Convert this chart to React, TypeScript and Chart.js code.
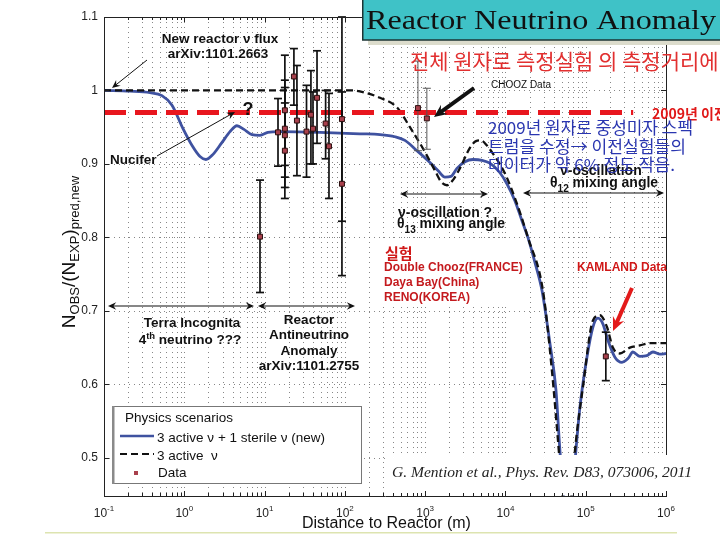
import React, { useEffect, useRef } from 'react';
import { Chart, registerables } from 'chart.js';
Chart.register(...registerables);

// ---------- data ----------
// 3 active + 1 sterile neutrino prediction
const sterileDist = [0.1, 0.211, 0.374, 0.527, 0.703, 0.964, 1.25, 1.57, 1.86, 2.28, 2.94, 3.71, 4.53, 5.54, 6.97, 8.77, 11.0, 15.6, 49, 154, 274, 421, 560, 791, 1148, 1443, 1766, 2096, 2489, 3133, 3940, 5100, 6410, 8540, 10440, 13120, 16030, 19050, 23300, 28500, 35800, 42600, 47700, 53600, 60000, 67300, 75500, 84700, 103600, 123000, 142000, 164000, 189000, 231000, 283000, 336000, 387000, 473000, 578000, 687000, 840000, 1000000];
const sterileRatio = [1.000, 0.999, 0.997, 0.993, 0.980, 0.948, 0.925, 0.910, 0.906, 0.913, 0.929, 0.944, 0.952, 0.947, 0.940, 0.939, 0.943, 0.944, 0.943, 0.941, 0.940, 0.937, 0.932, 0.918, 0.902, 0.891, 0.882, 0.883, 0.894, 0.903, 0.906, 0.905, 0.901, 0.888, 0.873, 0.850, 0.823, 0.800, 0.766, 0.728, 0.656, 0.592, 0.510, 0.442, 0.415, 0.442, 0.510, 0.569, 0.637, 0.678, 0.690, 0.682, 0.660, 0.637, 0.630, 0.635, 0.644, 0.638, 0.639, 0.644, 0.641, 0.642];
// 3 active neutrino prediction
const activeDist = [0.1, 126, 178, 274, 445, 647, 940, 1325, 1574, 1868, 2218, 2711, 3612, 4295, 4958, 5888, 6990, 9860, 13900, 19050, 29300, 37900, 45100, 52000, 58400, 65400, 73500, 92300, 123000, 150000, 184000, 218000, 267000, 355000, 473000, 631000, 1000000];
const activeRatio = [1.0, 1.0, 0.997, 0.990, 0.977, 0.950, 0.921, 0.891, 0.876, 0.871, 0.878, 0.894, 0.922, 0.931, 0.932, 0.925, 0.914, 0.887, 0.846, 0.800, 0.728, 0.619, 0.524, 0.442, 0.415, 0.442, 0.510, 0.596, 0.687, 0.694, 0.678, 0.650, 0.642, 0.650, 0.653, 0.656, 0.656];
// "before 2009" level
const oldFluxDist = [0.1, 390000];
const oldFluxRatio = [0.97, 0.97];
// experiments
const dataName = ['ILL', 'Bugey', 'Rovno91', 'Rovno88-a', 'Rovno88-b', 'SRP-I', 'SRP-II', 'Rovno88-c', 'Krasnoyarsk-I', 'Goesgen-I', 'Bugey-40', 'Goesgen-II', 'Krasnoyarsk-III', 'Goesgen-III', 'Krasnoyarsk-II', 'Bugey-95', 'PaloVerde', 'CHOOZ', 'KamLAND'];
const dataDist = [8.77, 14.7, 17.9, 17.9, 17.9, 17.9, 23.2, 25.3, 33.3, 37.8, 40.1, 45, 57.6, 63.4, 92, 92, 813, 1050, 178000];
const dataRatio = [0.801, 0.943, 0.973, 0.948, 0.939, 0.918, 1.019, 0.959, 0.944, 0.967, 0.948, 0.990, 0.955, 0.924, 0.961, 0.873, 0.976, 0.962, 0.638];
const dataLow = [0.725, 0.897, 0.898, 0.882, 0.868, 0.853, 0.980, 0.884, 0.882, 0.900, 0.900, 0.928, 0.907, 0.853, 0.822, 0.748, 0.918, 0.920, 0.605];
const dataHigh = [0.878, 0.989, 1.048, 1.014, 1.004, 0.983, 1.057, 1.034, 1.007, 1.027, 0.998, 1.054, 1.000, 0.996, 1.100, 0.998, 1.040, 1.003, 0.671];
// axes
const xExponents = [-1, 0, 1, 2, 3, 4, 5, 6];
const yTickValues = [0.5, 0.6, 0.7, 0.8, 0.9, 1.0, 1.1];
const yTickLabels = ['0.5', '0.6', '0.7', '0.8', '0.9', '1', '1.1'];

const xTickValues: number[] = [];
for (let e = -1; e < 6; e++) for (let m = 1; m < 10; m++) xTickValues.push(m * Math.pow(10, e));
xTickValues.push(1e6);

const BLUE = '#3f52a0';
const SANS = '"Liberation Sans", Arial, sans-serif';
const KR = '"Noto Sans CJK KR", sans-serif';
const SERIF = '"Liberation Serif", "DejaVu Serif", serif';

function text(ctx: any, s: string, x: number, y: number, font: string, color: string, align = 'left', fitW?: number) {
  ctx.font = font;
  ctx.fillStyle = color;
  ctx.textBaseline = 'middle';
  if (fitW) {
    const w = ctx.measureText(s).width;
    ctx.textAlign = 'left';
    ctx.save();
    const x0 = align === 'center' ? x - fitW / 2 : x;
    ctx.translate(x0, y);
    ctx.scale(fitW / w, 1);
    ctx.fillText(s, 0, 0);
    ctx.restore();
  } else {
    ctx.textAlign = align;
    ctx.fillText(s, x, y);
  }
}

function segs(ctx: any, list: { t: string; f: string; dy?: number }[], x: number, y: number, align: string, color: string) {
  ctx.textBaseline = 'alphabetic';
  ctx.textAlign = 'left';
  let total = 0;
  for (const s of list) { ctx.font = s.f; total += ctx.measureText(s.t).width; }
  let cx = align === 'center' ? x - total / 2 : x;
  ctx.fillStyle = color;
  for (const s of list) {
    ctx.font = s.f;
    ctx.fillText(s.t, cx, y + (s.dy || 0));
    cx += ctx.measureText(s.t).width;
  }
}

function head(ctx: any, x1: number, y1: number, x2: number, y2: number, size: number, color: string) {
  const a = Math.atan2(y2 - y1, x2 - x1);
  ctx.beginPath();
  ctx.moveTo(x2, y2);
  ctx.lineTo(x2 - size * Math.cos(a - 0.42), y2 - size * Math.sin(a - 0.42));
  ctx.lineTo(x2 - size * 0.6 * Math.cos(a), y2 - size * 0.6 * Math.sin(a));
  ctx.lineTo(x2 - size * Math.cos(a + 0.42), y2 - size * Math.sin(a + 0.42));
  ctx.closePath();
  ctx.fillStyle = color;
  ctx.fill();
}

function arrow(ctx: any, x1: number, y1: number, x2: number, y2: number, color = '#000', width = 1, size = 8, both = false) {
  const a = Math.atan2(y2 - y1, x2 - x1);
  const sx = both ? x1 + Math.cos(a) * size * 0.5 : x1;
  const sy = both ? y1 + Math.sin(a) * size * 0.5 : y1;
  ctx.setLineDash([]);
  ctx.strokeStyle = color;
  ctx.lineWidth = width;
  ctx.beginPath();
  ctx.moveTo(sx, sy);
  ctx.lineTo(x2 - Math.cos(a) * size * 0.5, y2 - Math.sin(a) * size * 0.5);
  ctx.stroke();
  head(ctx, x1, y1, x2, y2, size, color);
  if (both) head(ctx, x2, y2, x1, y1, size, color);
}

function seg(ctx: any, x1: number, y1: number, x2: number, y2: number) {
  ctx.beginPath();
  ctx.moveTo(x1, y1);
  ctx.lineTo(x2, y2);
  ctx.stroke();
}

const deco = {
  id: 'deco',
  beforeDatasetsDraw(chart: any) {
    const { ctx, chartArea: a, scales } = chart;
    ctx.save();
    ctx.strokeStyle = 'rgba(95,95,95,0.75)';
    ctx.lineWidth = 1;
    ctx.setLineDash([1, 4]);
    for (const v of xTickValues) {
      const p = Math.round(scales.x.getPixelForValue(v)) + 0.5;
      seg(ctx, p, a.top, p, a.bottom);
    }
    for (const v of yTickValues) {
      const p = Math.round(scales.y.getPixelForValue(v)) + 0.5;
      seg(ctx, a.left, p, a.right, p);
    }
    ctx.restore();
  },
  beforeDatasetDraw(chart: any, args: any) {
    if (args.index !== 0) return;
    const { ctx, scales } = chart;
    ctx.save();
    ctx.setLineDash([]);
    for (let i = 0; i < dataDist.length; i++) {
      const px = scales.x.getPixelForValue(dataDist[i]);
      const lo = scales.y.getPixelForValue(dataLow[i]);
      const hi = scales.y.getPixelForValue(dataHigh[i]);
      const thin = dataName[i] === 'CHOOZ' || dataName[i] === 'PaloVerde';
      ctx.strokeStyle = thin ? '#555' : '#111';
      ctx.lineWidth = thin ? 1 : 1.7;
      seg(ctx, px, lo, px, hi);
      seg(ctx, px - 4, lo, px + 4, lo);
      seg(ctx, px - 4, hi, px + 4, hi);
    }
    ctx.restore();
  },
  afterDraw(chart: any) {
    const { ctx, chartArea: a, scales } = chart;
    const xs = scales.x, ys = scales.y;
    const L = a.left, R = a.right, T = a.top, B = a.bottom;
    ctx.save();
    ctx.setLineDash([]);

    // white boxes over the plot
    ctx.fillStyle = '#fff';
    ctx.fillRect(378, 238, 148, 66);
    ctx.fillRect(385, 455, 312, B - 455 - 0.5);
    const cutY = 455;

    // frame
    ctx.strokeStyle = '#222';
    ctx.lineWidth = 1;
    seg(ctx, L + 0.5, T + 0.5, L + 0.5, B + 0.5);
    seg(ctx, L, B + 0.5, R + 1, B + 0.5);
    seg(ctx, L, T + 0.5, R + 1, T + 0.5);
    seg(ctx, R + 0.5, T, R + 0.5, cutY);
    for (const v of xTickValues) {
      const p = Math.round(xs.getPixelForValue(v)) + 0.5;
      const lg = Math.log10(v);
      const len = Math.abs(lg - Math.round(lg)) < 1e-6 ? 5 : 3;
      seg(ctx, p, B, p, B - len);
      seg(ctx, p, T, p, T + len);
    }
    for (const v of yTickValues) {
      const p = Math.round(ys.getPixelForValue(v)) + 0.5;
      seg(ctx, L, p, L + 5, p);
      if (p < cutY) seg(ctx, R, p, R - 5, p);
    }
    // tick labels
    xExponents.forEach((e) => {
      const p = xs.getPixelForValue(Math.pow(10, e));
      ctx.font = '12px ' + SANS;
      const w1 = ctx.measureText('10').width;
      ctx.font = '8px ' + SANS;
      const w2 = ctx.measureText(String(e)).width;
      const st = p - (w1 + w2) / 2;
      segs(ctx, [{ t: '10', f: '12px ' + SANS }, { t: String(e), f: '8px ' + SANS, dy: -6 }], st, 517, 'left', '#222');
    });
    yTickValues.forEach((v, i) => {
      text(ctx, yTickLabels[i], 98, ys.getPixelForValue(v), '12px ' + SANS, '#222', 'right');
    });
    // axis titles
    text(ctx, 'Distance to Reactor (m)', 302, 524, '16px ' + SANS, '#111', 'left');
    ctx.save();
    ctx.translate(75, 252);
    ctx.rotate(-Math.PI / 2);
    segs(ctx, [
      { t: 'N', f: '19px ' + SANS },
      { t: 'OBS', f: '13px ' + SANS, dy: 4 },
      { t: '/(N', f: '19px ' + SANS },
      { t: 'EXP', f: '13px ' + SANS, dy: 4 },
      { t: ')', f: '19px ' + SANS },
      { t: 'pred,new', f: '13px ' + SANS, dy: 4 },
    ], 0, 0, 'center', '#111');
    ctx.restore();

    // annotations (black, bold)
    const B13 = 'bold 13.5px ' + SANS;
    const S9 = 'bold 9.5px ' + SANS;
    segs(ctx, [{ t: 'New reactor ν flux', f: B13 }], 220, 43, 'center', '#111');
    segs(ctx, [{ t: 'arXiv:1101.2663', f: B13 }], 218, 58, 'center', '#111');
    arrow(ctx, 147, 60, 112, 88, '#111', 1, 9);
    segs(ctx, [{ t: '?', f: 'bold 18px ' + SANS }], 248, 115, 'center', '#111');
    segs(ctx, [{ t: 'Nucifer', f: B13 }], 110, 164, 'left', '#111');
    arrow(ctx, 157, 156, 235, 112, '#111', 1, 9);

    arrow(ctx, 108, 306, 254, 306, '#111', 1.2, 9, true);
    arrow(ctx, 258, 306, 355, 306, '#111', 1.2, 9, true);
    segs(ctx, [{ t: 'Terra Incognita', f: B13 }], 192, 327, 'center', '#111');
    segs(ctx, [{ t: '4', f: B13 }, { t: 'th', f: S9, dy: -5 }, { t: ' neutrino ???', f: B13 }], 190, 344, 'center', '#111');
    ['Reactor', 'Antineutrino', 'Anomaly', 'arXiv:1101.2755'].forEach((s, i) => {
      segs(ctx, [{ t: s, f: B13 }], 309, 324 + i * 15.3, 'center', '#111');
    });

    arrow(ctx, 400, 194, 488, 194, '#111', 1.2, 9, true);
    arrow(ctx, 523, 193, 664, 193, '#111', 1.2, 9, true);
    segs(ctx, [{ t: 'ν-oscillation ?', f: 'bold 14px ' + SANS }], 398, 217, 'left', '#111');
    segs(ctx, [{ t: 'θ', f: 'bold 14px ' + SANS }, { t: '13', f: 'bold 10px ' + SANS, dy: 5 }, { t: ' mixing angle', f: 'bold 14px ' + SANS }], 397, 228, 'left', '#111');
    segs(ctx, [{ t: 'ν-oscillation', f: 'bold 14px ' + SANS }], 560, 175, 'left', '#111');
    segs(ctx, [{ t: 'θ', f: 'bold 14px ' + SANS }, { t: '12', f: 'bold 10px ' + SANS, dy: 5 }, { t: ' mixing angle', f: 'bold 14px ' + SANS }], 550, 187, 'left', '#111');

    text(ctx, 'CHOOZ Data', 491, 85, '10px ' + SANS, '#111', 'left');
    arrow(ctx, 474, 88, 434, 117, '#111', 4, 14);

    // 실험 box
    text(ctx, '실험', 385, 253, 'bold 15px ' + KR, '#d01818', 'left');
    ['Double Chooz(FRANCE)', 'Daya Bay(China)', 'RENO(KOREA)'].forEach((s, i) => {
      text(ctx, s, 384, 268 + i * 15, 'bold 12px ' + SANS, '#c41a1e', 'left');
    });
    text(ctx, 'KAMLAND Data', 577, 268, 'bold 12px ' + SANS, '#d01818', 'left');
    arrow(ctx, 632, 288, 613, 331, '#e31a1a', 4, 15);

    // citation
    text(ctx, 'G. Mention et al., Phys. Rev. D83, 073006, 2011', 392, 473, 'italic 14px ' + SERIF, '#222', 'left', 300);

    // legend box
    ctx.fillStyle = '#fff';
    ctx.fillRect(113, 406, 249, 78);
    ctx.strokeStyle = '#777';
    ctx.lineWidth = 1;
    ctx.strokeRect(113.5, 406.5, 248, 77);
    ctx.fillStyle = '#8a8a8a';
    ctx.fillRect(112, 406, 2.5, 78);
    text(ctx, 'Physics scenarios', 125, 418, '13.5px ' + SANS, '#111', 'left');
    ctx.strokeStyle = BLUE; ctx.lineWidth = 2.5; ctx.setLineDash([]);
    seg(ctx, 120, 436, 154, 436);
    text(ctx, '3 active ν + 1 sterile ν (new)', 157, 438, '13.5px ' + SANS, '#111', 'left', 168);
    ctx.strokeStyle = '#111'; ctx.lineWidth = 2.2; ctx.setLineDash([7, 4]);
    seg(ctx, 120, 454, 154, 454);
    ctx.setLineDash([]);
    text(ctx, '3 active  ν', 157, 456, '13.5px ' + SANS, '#111', 'left');
    ctx.fillStyle = '#a8404c';
    ctx.fillRect(134, 471, 4, 4);
    text(ctx, 'Data', 158, 473, '13.5px ' + SANS, '#111', 'left');

    // title box
    ctx.fillStyle = '#dcdccc';
    ctx.fillRect(368, 40, 352, 5);
    ctx.fillStyle = '#3fc2c7';
    ctx.fillRect(362, 0, 358, 40);
    ctx.strokeStyle = '#1c3434';
    ctx.lineWidth = 1.5;
    ctx.strokeRect(362.75, -2, 360, 42);
    text(ctx, 'Reactor Neutrino Anomaly', 366, 22, '28px ' + SERIF, '#111', 'left', 350);

    // Korean notes
    text(ctx, '전체 원자로 측정실험 의 측정거리에', 410, 61, '21px ' + KR, '#e23030', 'left');
    text(ctx, '2009년 이전', 652, 114, 'bold 14px ' + KR, '#e01818', 'left');
    text(ctx, '2009년 원자로 중성미자 스펙', 488, 128, '16.5px ' + KR, '#2a36b0', 'left', 205);
    text(ctx, '트럼을 수정→ 이전실험들의', 488, 147, '16.5px ' + KR, '#2a36b0', 'left', 198);
    text(ctx, '데이터가 약 6% 정도 작음.', 488, 165, '16.5px ' + KR, '#2a36b0', 'left', 187);

    // slide footer line
    ctx.fillStyle = '#dde4b0';
    ctx.fillRect(45, 532, 632, 1.5);
    ctx.restore();
  },
};

export default function App() {
  const ref = useRef<HTMLCanvasElement>(null);
  useEffect(() => {
    const chart = new Chart(ref.current as HTMLCanvasElement, {
      type: 'scatter',
      data: {
        datasets: [
          {
            label: 'Data',
            data: dataDist.map((d, i) => ({ x: d, y: dataRatio[i] })),
            pointStyle: 'rect',
            pointRadius: 3.5,
            backgroundColor: '#a8404c',
            borderColor: '#2a0e0e',
            borderWidth: 1,
            order: 0,
          },
          {
            label: 'before 2009',
            data: oldFluxDist.map((d, i) => ({ x: d, y: oldFluxRatio[i] })),
            showLine: true,
            borderColor: '#e8161e',
            borderWidth: 5,
            borderDash: [22, 9],
            pointRadius: 0,
            order: 1,
          },
          {
            label: '3 active ν',
            data: activeDist.map((d, i) => ({ x: d, y: activeRatio[i] })),
            showLine: true,
            borderColor: '#111',
            borderWidth: 2.3,
            borderDash: [7, 4],
            pointRadius: 0,
            cubicInterpolationMode: 'monotone',
            order: 2,
          },
          {
            label: '3 active ν + 1 sterile ν (new)',
            data: sterileDist.map((d, i) => ({ x: d, y: sterileRatio[i] })),
            showLine: true,
            borderColor: BLUE,
            borderWidth: 2.8,
            pointRadius: 0,
            cubicInterpolationMode: 'monotone',
            order: 3,
          },
        ],
      } as any,
      options: {
        responsive: false,
        animation: false,
        devicePixelRatio: 1,
        events: [],
        layout: { padding: { left: 0, top: 17, right: 54, bottom: 0 } },
        plugins: { legend: { display: false }, tooltip: { enabled: false } },
        scales: {
          x: {
            type: 'logarithmic',
            min: 0.1,
            max: 1e6,
            afterBuildTicks: (s: any) => { s.ticks = xTickValues.map((v) => ({ value: v })); },
            afterFit: (s: any) => { s.height = 44; },
            ticks: { display: false },
            grid: { display: false },
            border: { display: false },
          },
          y: {
            type: 'linear',
            min: 0.448,
            max: 1.1,
            afterBuildTicks: (s: any) => { s.ticks = yTickValues.map((v) => ({ value: v })); },
            afterFit: (s: any) => { s.width = 104; },
            ticks: { display: false },
            grid: { display: false },
            border: { display: false },
          },
        },
      } as any,
      plugins: [deco as any],
    });
    return () => chart.destroy();
  }, []);
  return (
    <div style={{ position: 'fixed', left: 0, top: 0, width: 720, height: 540, background: '#fff', overflow: 'hidden' }}>
      <canvas ref={ref} width={720} height={540} style={{ display: 'block' }} />
    </div>
  );
}
